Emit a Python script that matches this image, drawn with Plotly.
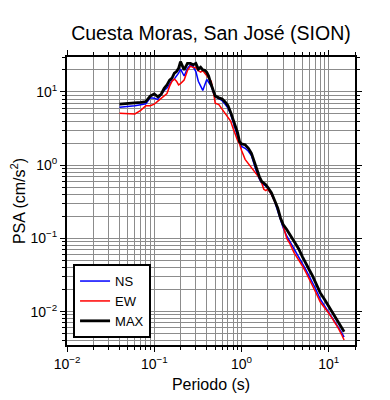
import math
import plotly.graph_objects as go

# ---------------- data ----------------
periods = [0.04, 0.05, 0.06, 0.07, 0.08, 0.09, 0.10, 0.11, 0.12, 0.13, 0.14, 0.15,
           0.16, 0.17, 0.18, 0.19, 0.20, 0.22, 0.24, 0.26, 0.28, 0.30, 0.32, 0.34,
           0.36, 0.38, 0.40, 0.42, 0.45, 0.48, 0.50, 0.55, 0.60, 0.65, 0.70, 0.75,
           0.80, 0.85, 0.90, 0.95, 1.0, 1.1, 1.2, 1.3, 1.4, 1.5, 1.6, 1.7, 1.8, 1.9,
           2.0, 2.2, 2.4, 2.6, 2.8, 3.0, 3.3, 3.6, 4.0, 4.5, 5.0, 5.5, 6.0, 6.5, 7.0,
           8.0, 9.0, 10.0, 11.0, 12.0, 13.0, 14.0, 15.0]

ns = [6.2, 6.3, 6.5, 6.7, 6.9, 8.3, 8.2, 7.9, 9.2, 10.5, 11.3, 13.0,
      14.3, 15.0, 16.5, 18.0, 20.5, 16.5, 21.0, 23.5, 22.0, 19.0, 14.0, 12.0,
      10.5, 12.5, 14.8, 13.5, 12.0, 9.5, 8.6, 8.1, 7.6, 6.8, 6.0, 5.0,
      4.0, 3.2, 2.5, 2.0, 1.8, 1.7, 1.55, 1.35, 1.0, 0.78, 0.65, 0.57, 0.54, 0.52,
      0.48, 0.40, 0.32, 0.24, 0.18, 0.14, 0.108, 0.09, 0.075, 0.058, 0.046, 0.037, 0.030, 0.025, 0.021,
      0.0148, 0.012, 0.0098, 0.0082, 0.0070, 0.0060, 0.0052, 0.0045]

ew = [5.1, 5.0, 5.0, 5.6, 6.5, 6.5, 6.8, 7.5, 8.2, 8.8, 9.5, 12.0,
      14.0, 15.0, 14.0, 12.5, 13.0, 14.5, 19.5, 22.5, 21.5, 21.5, 19.5, 18.6,
      19.6, 18.0, 16.7, 16.0, 14.0, 9.5, 7.0, 6.7, 5.8, 5.0, 4.4, 4.0,
      3.2, 2.6, 2.2, 1.95, 1.6, 1.2, 1.05, 0.95, 0.83, 0.75, 0.67, 0.58, 0.47, 0.45,
      0.47, 0.40, 0.32, 0.26, 0.19, 0.15, 0.10, 0.084, 0.064, 0.052, 0.042, 0.034, 0.028, 0.023, 0.019,
      0.0135, 0.0113, 0.0095, 0.0080, 0.0069, 0.0058, 0.0049, 0.0041]

mx = [6.8, 6.9, 7.0, 7.2, 7.4, 8.8, 9.4, 8.6, 9.3, 11.2, 12.5, 14.5,
      15.5, 18.0, 19.0, 21.0, 26.0, 20.0, 24.5, 24.5, 23.5, 24.5, 20.5, 21.8,
      20.0, 19.8, 18.5, 16.5, 12.5, 9.8, 8.8, 8.3, 8.0, 7.3, 6.5, 5.3,
      4.3, 3.4, 2.8, 2.1, 1.95, 1.9, 1.7, 1.45, 1.1, 0.85, 0.70, 0.60, 0.57, 0.54,
      0.50, 0.42, 0.33, 0.26, 0.19, 0.155, 0.132, 0.113, 0.092, 0.073, 0.056, 0.046, 0.037, 0.031, 0.025,
      0.018, 0.0145, 0.0118, 0.0097, 0.0082, 0.0069, 0.0060, 0.0053]

series_names = ["NS", "EW", "MAX"]
series_colors = ["#0000ff", "#ff0000", "#000000"]
series_widths = [1.5, 1.5, 2.8]

x_tickvals = [0.01, 0.1, 1, 10]
x_ticktext = ["10<sup>\u22122</sup>", "10<sup>\u22121</sup>", "10<sup>0</sup>", "10<sup>1</sup>"]
y_tickvals = [0.01, 0.1, 1, 10]
y_ticktext = ["10<sup>\u22122</sup>", "10<sup>\u22121</sup>", "10<sup>0</sup>", "10<sup>1</sup>"]

title_text = "Cuesta Moras, San Jos\u00e9 (SION)"
x_title = "Periodo (s)"
y_title = "PSA (cm/s<sup>2</sup>)"

# ---------------- figure ----------------
# page body has an 8px margin, so the figure is 8px smaller than the window
FONT = "Liberation Sans, Arial, Helvetica, sans-serif"
W, H = 382, 392
fig = go.Figure()
for name, vals, col, w in zip(series_names, [ns, ew, mx], series_colors, series_widths):
    fig.add_trace(go.Scatter(x=periods, y=vals, mode="lines", name=name,
                             line=dict(color=col, width=w)))

minor_vals = [m * 10 ** e for e in range(-3, 3) for m in range(2, 10)]

axis_common = dict(
    type="log", showline=True, linecolor="black", linewidth=2, mirror="allticks",
    ticks="outside", ticklen=5, tickwidth=1, tickcolor="black",
    showgrid=True, gridcolor="#8c8c8c", gridwidth=1, zeroline=False,
    tickmode="array", automargin=False,
    tickfont=dict(family=FONT, size=14, color="black"),
    minor=dict(tickmode="array", tickvals=minor_vals, ticks="outside", ticklen=3,
               tickwidth=1, tickcolor="black", showgrid=True,
               gridcolor="#8c8c8c", gridwidth=1),
)

fig.update_layout(
    width=W, height=H,
    margin=dict(l=59, r=35, t=49, b=55, autoexpand=False),
    paper_bgcolor="white", plot_bgcolor="white",
    font=dict(family=FONT, color="black"),
    title=dict(text=title_text, x=0.5, xref="paper", y=1 - 25 / H, yref="container",
               yanchor="middle", xanchor="center",
               font=dict(family=FONT, size=19.5, color="black")),
    xaxis=dict(axis_common, range=[-2, math.log10(20)], tickvals=x_tickvals,
               ticktext=x_ticktext,
               title=dict(text=x_title, font=dict(family=FONT, size=16), standoff=8)),
    yaxis=dict(axis_common, range=[math.log10(0.0035), math.log10(30)],
               tickvals=y_tickvals, ticktext=y_ticktext,
               title=dict(text=y_title, font=dict(family=FONT, size=16), standoff=8)),
    legend=dict(x=0.021, y=0.024, xanchor="left", yanchor="bottom",
                bgcolor="white", bordercolor="black", borderwidth=2,
                font=dict(family=FONT, size=13, color="black"),
                entrywidth=70, entrywidthmode="pixels",
                tracegroupgap=0),
    showlegend=True,
)

fig.write_html("out.html")
